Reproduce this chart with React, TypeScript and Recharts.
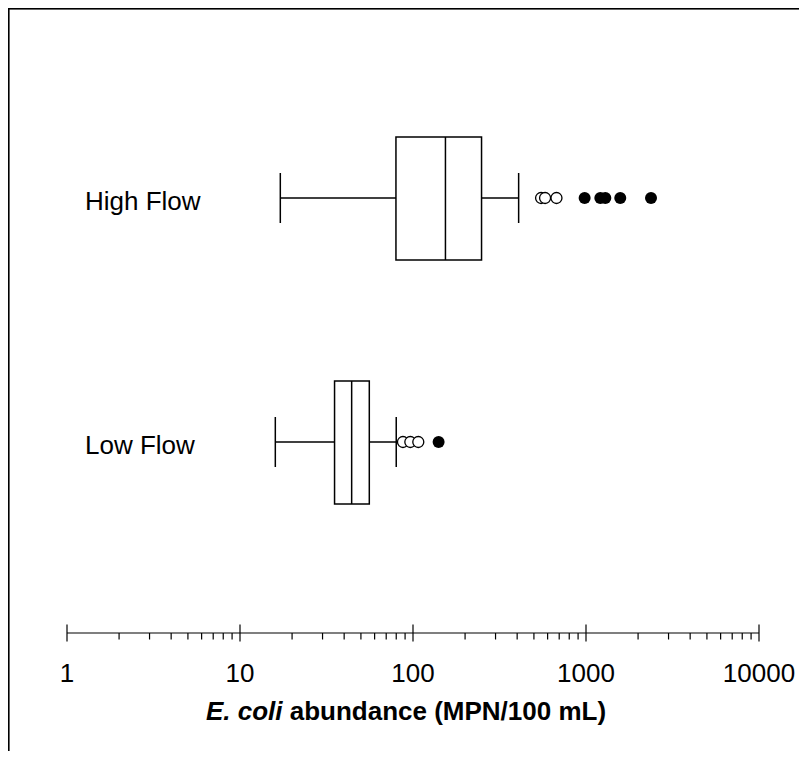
import { ComposedChart, Bar, Scatter, XAxis, YAxis, Customized } from 'recharts'

// box plot summaries
const flows = ['High Flow', 'Low Flow']
const whiskerLow = [17.1, 16.0]
const quartile1 = [79.7, 35.2]
const medians = [154, 44.2]
const quartile3 = [249, 55.9]
const whiskerHigh = [408, 80]

// outliers (open = mild, filled = extreme)
const highOpenOutliers = [550, 580, 675]
const highFilledOutliers = [982, 1210, 1293, 1578, 2376]
const lowOpenOutliers = [87.5, 96.5, 107.3]
const lowFilledOutliers = [140.6]

const decadeTicks = [1, 10, 100, 1000, 10000]
const minorTicks = [
  2, 3, 4, 5, 6, 7, 8, 9,
  20, 30, 40, 50, 60, 70, 80, 90,
  200, 300, 400, 500, 600, 700, 800, 900,
  2000, 3000, 4000, 5000, 6000, 7000, 8000, 9000,
]

const FONT = '"Liberation Sans", Arial, sans-serif'

const rows = flows.map((flow, i) => ({
  flow,
  whisker: [whiskerLow[i], whiskerHigh[i]],
  box: [quartile1[i], quartile3[i]],
  median: [quartile1[i], medians[i]],
}))

const openPoints = [
  ...highOpenOutliers.map((value) => ({ flow: flows[0], value })),
  ...lowOpenOutliers.map((value) => ({ flow: flows[1], value })),
]
const filledPoints = [
  ...highFilledOutliers.map((value) => ({ flow: flows[0], value })),
  ...lowFilledOutliers.map((value) => ({ flow: flows[1], value })),
]

const WhiskerShape = (p: any) => {
  const { x, y, width, height } = p
  const cy = y + height / 2
  return (
    <g stroke='#000' strokeWidth={1.5}>
      <line x1={x} x2={x + width} y1={cy} y2={cy} />
      <line x1={x} x2={x} y1={y} y2={y + height} />
      <line x1={x + width} x2={x + width} y1={y} y2={y + height} />
    </g>
  )
}

const BoxShape = (p: any) => (
  <rect x={p.x} y={p.y} width={p.width} height={p.height} fill='#fff' stroke='#000' strokeWidth={1.5} />
)

const MedianShape = (p: any) => (
  <line x1={p.x + p.width} x2={p.x + p.width} y1={p.y} y2={p.y + p.height} stroke='#000' strokeWidth={1.5} />
)

const OpenDot = (p: any) => <circle cx={p.cx} cy={p.cy} r={5.5} fill='#fff' stroke='#000' strokeWidth={1.3} />
const FilledDot = (p: any) => <circle cx={p.cx} cy={p.cy} r={6} fill='#000' />

const AxisTick = ({ x, y, payload }: any) => {
  const v = payload.value
  const major = decadeTicks.includes(v)
  return (
    <g>
      <line x1={x} x2={x} y1={major ? y - 8.5 : y} y2={major ? y + 8.5 : y + 6.5} stroke='#000' strokeWidth={1.2} />
      {major && (
        <text x={x} y={y + 49} textAnchor='middle' fontSize={26} fontFamily={FONT} fill='#000'>
          {v}
        </text>
      )}
    </g>
  )
}

// category names sit inside the frame, just right of the axis start
const FlowTick = ({ y, payload }: any) => (
  <text x={85} y={y + 12} textAnchor='start' fontSize={26} fontFamily={FONT} fill='#000'>
    {payload.value}
  </text>
)

const AxisTitle = ({ viewBox }: any) => (
  <text
    x={viewBox.x + viewBox.width / 2 - 7}
    y={viewBox.y + 87}
    textAnchor='middle'
    fontSize={26}
    fontWeight='bold'
    fontFamily={FONT}
    fill='#000'
  >
    <tspan fontStyle='italic'>E. coli</tspan> abundance (MPN/100 mL)
  </text>
)

// partial figure frame: top and left edges only (kept inside the visible area)
const Frame = () => (
  <g fill='#000'>
    <rect x={8} y={8} width={799} height={1.6} />
    <rect x={8} y={8} width={1.6} height={751} />
  </g>
)

const bandPadding = { top: 0, bottom: 69 }

export default function App() {
  return (
    <div style={{ margin: -8, width: 807, height: 759, background: '#fff' }}>
      <ComposedChart
        width={807}
        height={759}
        data={rows}
        layout='vertical'
        margin={{ top: 76, right: 48, bottom: 66, left: 0 }}
      >
        <XAxis
          type='number'
          scale='log'
          domain={[1, 10000]}
          ticks={[...decadeTicks, ...minorTicks].sort((a, b) => a - b)}
          interval={0}
          height={60}
          tickSize={0}
          tickMargin={0}
          tickLine={false}
          axisLine={{ stroke: '#000', strokeWidth: 1.2 }}
          tick={AxisTick}
          label={{ content: AxisTitle }}
        />
        <YAxis
          yAxisId='cat'
          type='category'
          dataKey='flow'
          allowDuplicatedCategory={false}
          width={67}
          padding={bandPadding}
          axisLine={false}
          tickLine={false}
          tickSize={0}
          tickMargin={0}
          tick={FlowTick}
        />
        <YAxis yAxisId='w' type='category' dataKey='flow' hide padding={bandPadding} />
        <YAxis yAxisId='b' type='category' dataKey='flow' hide padding={bandPadding} />
        <YAxis yAxisId='m' type='category' dataKey='flow' hide padding={bandPadding} />
        <Bar yAxisId='w' dataKey='whisker' barSize={50} shape={WhiskerShape} isAnimationActive={false} />
        <Bar yAxisId='b' dataKey='box' barSize={123} shape={BoxShape} isAnimationActive={false} />
        <Bar yAxisId='m' dataKey='median' barSize={123} shape={MedianShape} isAnimationActive={false} />
        <Scatter yAxisId='cat' data={openPoints} dataKey='value' shape={OpenDot} isAnimationActive={false} />
        <Scatter yAxisId='cat' data={filledPoints} dataKey='value' shape={FilledDot} isAnimationActive={false} />
        <Customized component={<Frame />} />
      </ComposedChart>
    </div>
  )
}
